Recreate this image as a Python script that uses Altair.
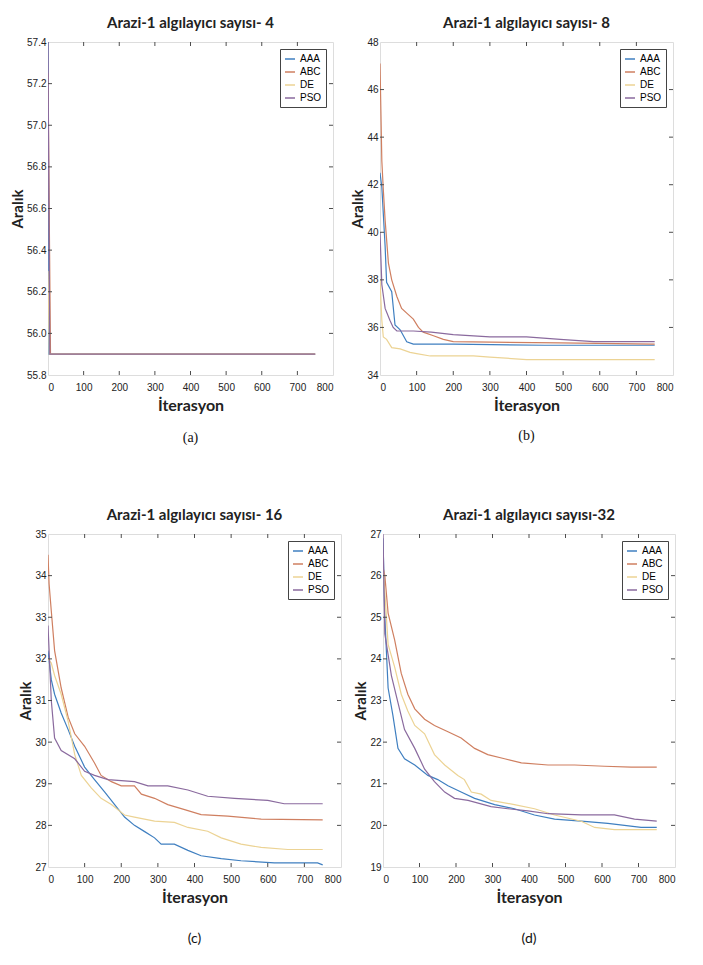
import altair as alt
import pandas as pd

SERIES = ["AAA", "ABC", "DE", "PSO"]
COLORS = ["#3f7fc0", "#cf7f60", "#ecd394", "#8a6a9e"]

# ---------- panel (a): sensors = 4 ----------
a_AAA_x = [0, 3, 750]
a_AAA_y = [57.45, 55.9, 55.9]
a_ABC_x = [0, 7, 750]
a_ABC_y = [57.25, 55.9, 55.9]
a_DE_x = [0, 4, 750]
a_DE_y = [56.3, 55.9, 55.9]
a_PSO_x = [0, 5, 750]
a_PSO_y = [57.4, 55.9, 55.9]

# ---------- panel (b): sensors = 8 ----------
b_AAA_x = [0, 5, 14, 18, 32, 41, 55, 73, 91, 200, 450, 750]
b_AAA_y = [42.5, 41.9, 39.4, 37.9, 37.5, 36.1, 35.9, 35.4, 35.3, 35.3, 35.25, 35.25]
b_ABC_x = [0, 5, 9, 14, 23, 32, 46, 59, 73, 91, 105, 118, 146, 173, 200, 490, 750]
b_ABC_y = [47.1, 43.0, 41.8, 40.5, 38.7, 38.0, 37.3, 36.8, 36.6, 36.35, 36.0, 35.8, 35.65, 35.5, 35.4, 35.35, 35.3]
b_DE_x = [0, 5, 9, 18, 32, 55, 82, 100, 137, 255, 300, 400, 750]
b_DE_y = [38.0, 36.3, 35.6, 35.5, 35.15, 35.1, 34.95, 34.9, 34.8, 34.8, 34.75, 34.65, 34.65]
b_PSO_x = [0, 5, 14, 27, 36, 46, 91, 140, 200, 300, 400, 492, 583, 750]
b_PSO_y = [40.0, 37.8, 36.8, 36.3, 36.0, 35.85, 35.85, 35.8, 35.7, 35.6, 35.6, 35.5, 35.4, 35.4]

# ---------- panel (c): sensors = 16 ----------
c_AAA_x = [0, 9, 18, 36, 55, 73, 100, 127, 155, 182, 209, 236, 264, 291, 309, 345, 382, 418, 473, 527, 618, 736, 750]
c_AAA_y = [32.2, 31.5, 31.15, 30.7, 30.3, 29.9, 29.4, 29.1, 28.8, 28.5, 28.2, 28.0, 27.85, 27.7, 27.55, 27.55, 27.4, 27.27, 27.2, 27.15, 27.1, 27.1, 27.05]
c_ABC_x = [0, 3, 9, 18, 36, 55, 73, 100, 127, 145, 173, 200, 236, 255, 291, 327, 373, 418, 491, 582, 750]
c_ABC_y = [34.5, 33.8, 33.15, 32.2, 31.3, 30.6, 30.2, 29.9, 29.5, 29.2, 29.05, 28.95, 28.95, 28.75, 28.65, 28.5, 28.38, 28.26, 28.22, 28.15, 28.13]
c_DE_x = [0, 9, 18, 36, 55, 73, 91, 118, 145, 173, 209, 236, 291, 345, 382, 436, 473, 527, 582, 655, 750]
c_DE_y = [32.0, 31.9, 31.6, 31.15, 30.5, 29.7, 29.2, 28.9, 28.65, 28.5, 28.25, 28.2, 28.1, 28.07, 27.95, 27.86, 27.7, 27.55, 27.47, 27.42, 27.42]
c_PSO_x = [0, 9, 18, 36, 73, 100, 127, 164, 236, 273, 327, 382, 436, 509, 600, 645, 750]
c_PSO_y = [32.8, 31.0, 30.1, 29.8, 29.6, 29.3, 29.2, 29.1, 29.05, 28.95, 28.95, 28.85, 28.7, 28.65, 28.6, 28.52, 28.52]

# ---------- panel (d): sensors = 32 ----------
d_AAA_x = [0, 5, 14, 27, 41, 59, 87, 123, 150, 178, 214, 251, 306, 360, 415, 470, 543, 616, 707, 750]
d_AAA_y = [26.9, 25.0, 23.3, 22.65, 21.85, 21.6, 21.45, 21.2, 21.1, 20.95, 20.8, 20.65, 20.5, 20.4, 20.25, 20.15, 20.1, 20.05, 19.95, 19.95]
d_ABC_x = [0, 5, 14, 32, 50, 68, 87, 114, 141, 178, 214, 251, 287, 333, 379, 452, 525, 607, 680, 750]
d_ABC_y = [26.2, 26.0, 25.1, 24.45, 23.65, 23.15, 22.8, 22.55, 22.4, 22.25, 22.1, 21.85, 21.7, 21.6, 21.5, 21.45, 21.45, 21.42, 21.4, 21.4]
d_DE_x = [0, 14, 32, 50, 68, 87, 114, 141, 169, 205, 223, 242, 269, 296, 360, 415, 470, 543, 580, 634, 750]
d_DE_y = [26.3, 24.35, 23.8, 23.15, 22.75, 22.4, 22.2, 21.7, 21.45, 21.2, 21.1, 20.8, 20.75, 20.6, 20.5, 20.4, 20.25, 20.1, 19.95, 19.9, 19.9]
d_PSO_x = [0, 5, 23, 41, 59, 87, 114, 141, 169, 196, 233, 296, 342, 397, 452, 543, 634, 689, 750]
d_PSO_y = [27.0, 24.6, 23.6, 22.95, 22.3, 21.85, 21.35, 21.05, 20.8, 20.65, 20.6, 20.45, 20.4, 20.35, 20.28, 20.25, 20.25, 20.15, 20.1]

X_TICKS = [0, 100, 200, 300, 400, 500, 600, 700, 800]
a_yticks = [55.8, 56.0, 56.2, 56.4, 56.6, 56.8, 57.0, 57.2, 57.4]
b_yticks = [34, 36, 38, 40, 42, 44, 46, 48]
c_yticks = [27, 28, 29, 30, 31, 32, 33, 34, 35]
d_yticks = [19, 20, 21, 22, 23, 24, 25, 26, 27]

TITLES = ["Arazi-1 algılayıcı sayısı- 4", "Arazi-1 algılayıcı sayısı- 8",
          "Arazi-1 algılayıcı sayısı- 16", "Arazi-1 algılayıcı sayısı-32"]
CAPTIONS = ["(a)", "(b)", "(c)", "(d)"]

TXT = "#222222"
FRAME = "#4d4d4d"

AX_COMMON = dict(grid=False, ticks=False, domain=False, labelOverlap=False, labelBound=False,
                 labelFont="Liberation Sans", labelFontSize=10, labelColor=TXT,
                 titleFont="Lato", titleFontWeight="bold", titleColor=TXT)


def series_df(data):
    rows = []
    for name, (xs, ys) in zip(SERIES, data):
        for i, (x, y) in enumerate(zip(xs, ys)):
            rows.append({"alg": name, "iter": x, "val": y, "ord": i})
    return pd.DataFrame(rows)


def panel(data, title, yticks, yfmt, caption, cap_font, cap_size, w, h, cap_y):
    df = series_df(data)
    ydom = [yticks[0], yticks[-1]]
    xs = alt.Scale(domain=[0, 800], nice=False)
    ys = alt.Scale(domain=ydom, nice=False, zero=False)
    xax = alt.Axis(values=X_TICKS, title="İterasyon", format="d", labelPadding=7,
                   titleFontSize=16, titlePadding=5, **AX_COMMON)
    yax = alt.Axis(values=yticks, title="Aralık", format=yfmt, labelPadding=2,
                   titleFontSize=15, titlePadding=1, **AX_COMMON)
    lines = alt.Chart(df).mark_line(strokeWidth=1.2, clip=True).encode(
        x=alt.X("iter:Q", scale=xs, axis=xax),
        y=alt.Y("val:Q", scale=ys, axis=yax),
        color=alt.Color("alg:N", scale=alt.Scale(domain=SERIES, range=COLORS),
                        legend=alt.Legend(title=None, orient="top-right", offset=7,
                                          strokeColor="#444444", fillColor="white",
                                          padding=4, cornerRadius=0)),
        order="ord:Q",
    )
    xt = pd.DataFrame({"t": X_TICKS[1:-1]})
    yt = pd.DataFrame({"t": yticks[1:-1]})
    tb = alt.Chart(xt).mark_rule(color=FRAME, strokeWidth=1).encode(
        x=alt.X("t:Q", scale=xs, axis=xax), y=alt.value(h), y2=alt.value(h - 4))
    tt = alt.Chart(xt).mark_rule(color=FRAME, strokeWidth=1).encode(
        x=alt.X("t:Q", scale=xs, axis=xax), y=alt.value(0), y2=alt.value(4))
    tl = alt.Chart(yt).mark_rule(color=FRAME, strokeWidth=1).encode(
        y=alt.Y("t:Q", scale=ys, axis=yax), x=alt.value(0), x2=alt.value(4))
    tr = alt.Chart(yt).mark_rule(color=FRAME, strokeWidth=1).encode(
        y=alt.Y("t:Q", scale=ys, axis=yax), x=alt.value(w), x2=alt.value(w - 4))
    cap = alt.Chart(pd.DataFrame({"c": [caption]})).mark_text(
        font=cap_font, fontSize=cap_size, color="#111111", baseline="middle", align="center"
    ).encode(text="c:N", x=alt.value(w / 2), y=alt.value(cap_y))
    return alt.layer(lines, tb, tt, tl, tr, cap).properties(
        width=w, height=h,
        title=alt.TitleParams(title, font="Lato", fontSize=15, fontWeight="bold",
                              color=TXT, offset=6),
    )


pa = panel([(a_AAA_x, a_AAA_y), (a_ABC_x, a_ABC_y), (a_DE_x, a_DE_y), (a_PSO_x, a_PSO_y)],
           TITLES[0], a_yticks, ".1f", CAPTIONS[0], "Liberation Serif", 14, 285, 333, 396)
pb = panel([(b_AAA_x, b_AAA_y), (b_ABC_x, b_ABC_y), (b_DE_x, b_DE_y), (b_PSO_x, b_PSO_y)],
           TITLES[1], b_yticks, "d", CAPTIONS[1], "Liberation Serif", 14, 293, 333, 394)
pc = panel([(c_AAA_x, c_AAA_y), (c_ABC_x, c_ABC_y), (c_DE_x, c_DE_y), (c_PSO_x, c_PSO_y)],
           TITLES[2], c_yticks, "d", CAPTIONS[2], "Lato", 14, 293, 333, 405)
pd_ = panel([(d_AAA_x, d_AAA_y), (d_ABC_x, d_ABC_y), (d_DE_x, d_DE_y), (d_PSO_x, d_PSO_y)],
            TITLES[3], d_yticks, "d", CAPTIONS[3], "Lato", 14, 292, 333, 405)

row1 = alt.hconcat(pa, pb, spacing=16).resolve_scale(color="independent").resolve_legend(color="independent")
row2 = alt.hconcat(pc, pd_, spacing=11).resolve_scale(color="independent").resolve_legend(color="independent")

chart = alt.vconcat(row1, row2, spacing=61).resolve_scale(color="independent").resolve_legend(
    color="independent"
).properties(
    padding={"left": 2, "top": 7, "right": 0, "bottom": 0}
).configure_view(
    stroke=FRAME, strokeWidth=1
).configure_legend(
    symbolType="stroke", symbolSize=500, symbolStrokeWidth=1.6,
    labelFont="Liberation Sans", labelFontSize=10, labelColor=TXT,
    rowPadding=-1, labelOffset=2,
).configure(background="white")

chart.save("out.html", embed_options={"renderer": "svg", "actions": False})
